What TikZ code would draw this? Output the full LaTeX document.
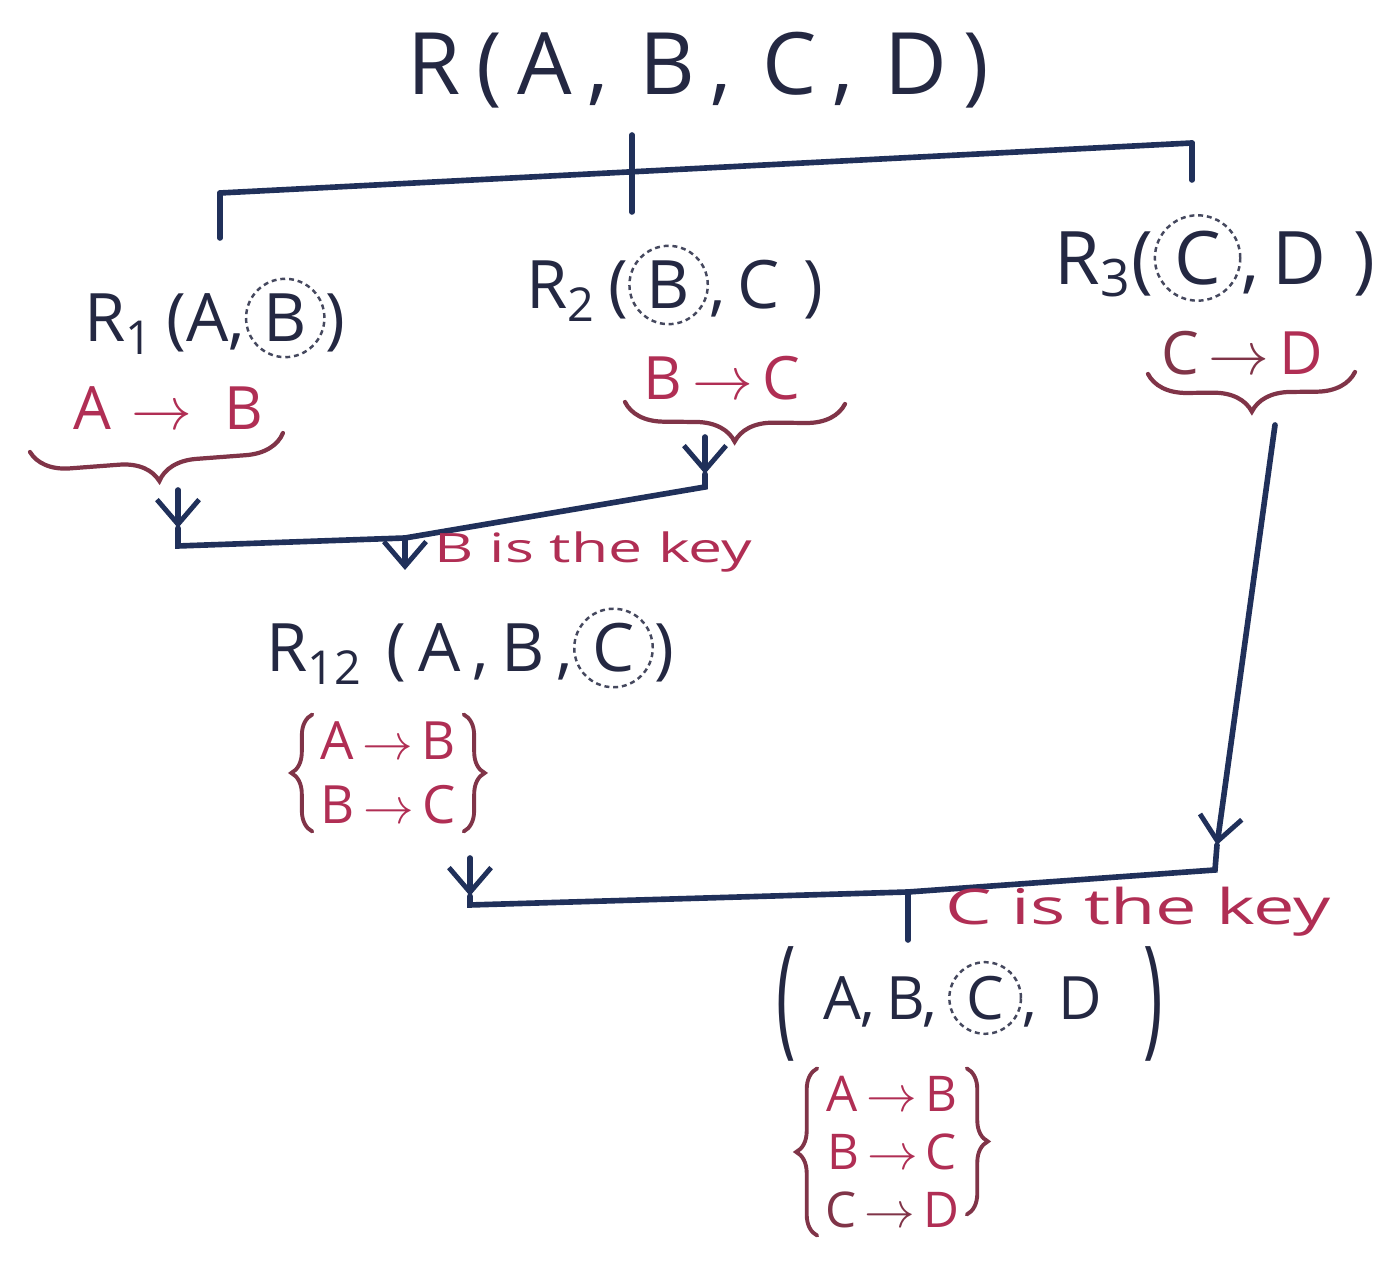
\documentclass[tikz,border=0pt]{standalone}
\usepackage{fontspec}
\usepackage{graphicx}
\setmainfont{Open Sans}
\usetikzlibrary{arrows.meta,decorations.pathreplacing}
\definecolor{ink}{RGB}{32,48,90}
\definecolor{txt}{RGB}{36,40,66}
\definecolor{fdred}{RGB}{176,46,84}
\definecolor{brc}{RGB}{128,52,72}
\newcommand\ck[1]{\tikz[baseline=(ckn.base)]\node[draw=txt!85,circle,dash pattern=on 1.4pt off 1.1pt,inner sep=1.4pt,line width=0.7pt](ckn){#1};}
\newcommand\gap{\hspace{0.18em}}
\newcommand\ar{\,$\rightarrow$\,}
\newcommand\bigparen[1]{\smash{\raisebox{-0.36em}{\scalebox{1.1}[2.2]{#1}}}}
\begin{document}
\begin{tikzpicture}[x=0.01cm,y=-0.01cm,
  line/.style={draw=ink,line width=1.6pt,line cap=round},
  flow/.style={line,-{Straight Barb[length=7pt,width=12pt,line width=1.4pt]}},
  rel/.style={text=txt,font=\fontsize{19}{22}\selectfont,inner sep=0pt},
  fd/.style={text=fdred,font=\fontsize{17}{19}\selectfont,inner sep=0pt},
  fdset/.style={text=fdred,font=\fontsize{14}{16}\selectfont,align=center,inner sep=2pt},
  fdbrace/.style={draw=brc,line width=1.2pt,line cap=round,decorate,decoration={brace,mirror,amplitude=11pt}},
  setbrace/.style={draw=brc,line width=1.1pt,line cap=round,decorate,decoration={brace,amplitude=6pt}},
  note/.style={text=fdred,font=\fontsize{11.5}{14}\selectfont,inner sep=0pt,anchor=west},
]
\useasboundingbox[fill=white] (0,0) rectangle (1393,1268);

% relations
\node[rel,font=\fontsize{24.5}{28}\selectfont] (R) at (698,70) {R\gap(\gap A\gap,\gap\gap B\gap,\gap\gap C\gap,\gap\gap D\gap)};
\node[rel] (R1) at (215,318) {R\textsubscript{1}\gap(A,\ck{B})};
\node[rel] (R2) at (675,285) {R\textsubscript{2}\gap(\ck{B},\gap C\gap\gap)};
\node[rel,font=\fontsize{21}{24}\selectfont] (R3) at (1215,258) {R\textsubscript{3}(\ck{C},\gap D\gap\gap)};
\node[rel] (R12) at (470,648) {R\textsubscript{12}\gap\gap(\gap A\gap,\gap B\gap,\ck{C})};
\node[rel,font=\fontsize{17}{20}\selectfont] (F) at (970,998) {\bigparen{(}\hspace{0.45em}A,\gap B,\gap\ck{C},\gap\gap D\hspace{0.7em}\bigparen{)}};

% functional dependencies
\node[fd] (fd1) at (168,408) {A\gap\ar\gap\gap B};
\node[fd] (fd2) at (722,378) {B\ar C};
\node[fd] (fd3) at (1242,353) {\textcolor{brc}{C\ar}D};
\draw[fdbrace] (30,452) -- (283,433);
\draw[fdbrace] (625,402) -- (845,404);
\draw[fdbrace] (1148,374) -- (1355,372);

\node[fdset,font=\fontsize{15}{18}\selectfont] (S12) at (388,773) {A\ar B\\B\ar C};
\draw[setbrace] (S12.south west) -- (S12.north west);
\draw[setbrace] (S12.north east) -- (S12.south east);

\node[fdset,font=\fontsize{14}{16.5}\selectfont] (S) at (892,1152) {A\ar B\\B\ar C\\\textcolor{brc}{C\ar}D};
\draw[setbrace] (S.south west) -- (S.north west);
\draw[setbrace] (S.north east) -- ([yshift=6pt]S.south east);

% top split
\coordinate (top) at (632,135);
\coordinate (busL) at (220,193);
\coordinate (busR) at (1192,143);
\coordinate (d1) at (220,238);
\coordinate (d2) at (632,212);
\coordinate (d3) at (1192,180);
\draw[line] (busL) -- (busR);
\draw[line] (top) -- (d2);
\draw[line] (busL) -- (d1);
\draw[line] (busR) -- (d3);

% join of R1 and R2
\coordinate (a1s) at (178,490);
\coordinate (a1t) at (178,528);
\coordinate (b1L) at (178,546);
\coordinate (b1M) at (405,538);
\coordinate (b1R) at (705,487);
\coordinate (a2s) at (705,437);
\coordinate (a2t) at (705,474);
\coordinate (a3t) at (405,570);
\draw[flow] (a1s) -- (a1t);
\draw[flow] (a2s) -- (a2t);
\draw[line] (a1t) -- (b1L) -- (b1M) -- (b1R) -- (a2t);
\draw[flow] (b1M) -- (a3t);
\node[note] (k1) at (434,552) {\scalebox{1.5}[1]{B is the key}};

% join of R12 and R3
\coordinate (a4s) at (1275,425);
\coordinate (a4t) at (1217,845);
\coordinate (b2R) at (1215,870);
\coordinate (b2M) at (908,892);
\coordinate (b2L) at (470,905);
\coordinate (a5s) at (470,858);
\coordinate (a5t) at (470,896);
\coordinate (tT) at (908,940);
\draw[flow] (a4s) -- (a4t);
\draw[flow] (a5s) -- (a5t);
\draw[line] (a4t) -- (b2R) -- (b2M) -- (b2L) -- (a5t);
\draw[line] (b2M) -- (tT);
\node[note,font=\fontsize{14}{16}\selectfont] (k2) at (945,912) {\scalebox{1.5}[1]{C is the key}};
\end{tikzpicture}
\end{document}
